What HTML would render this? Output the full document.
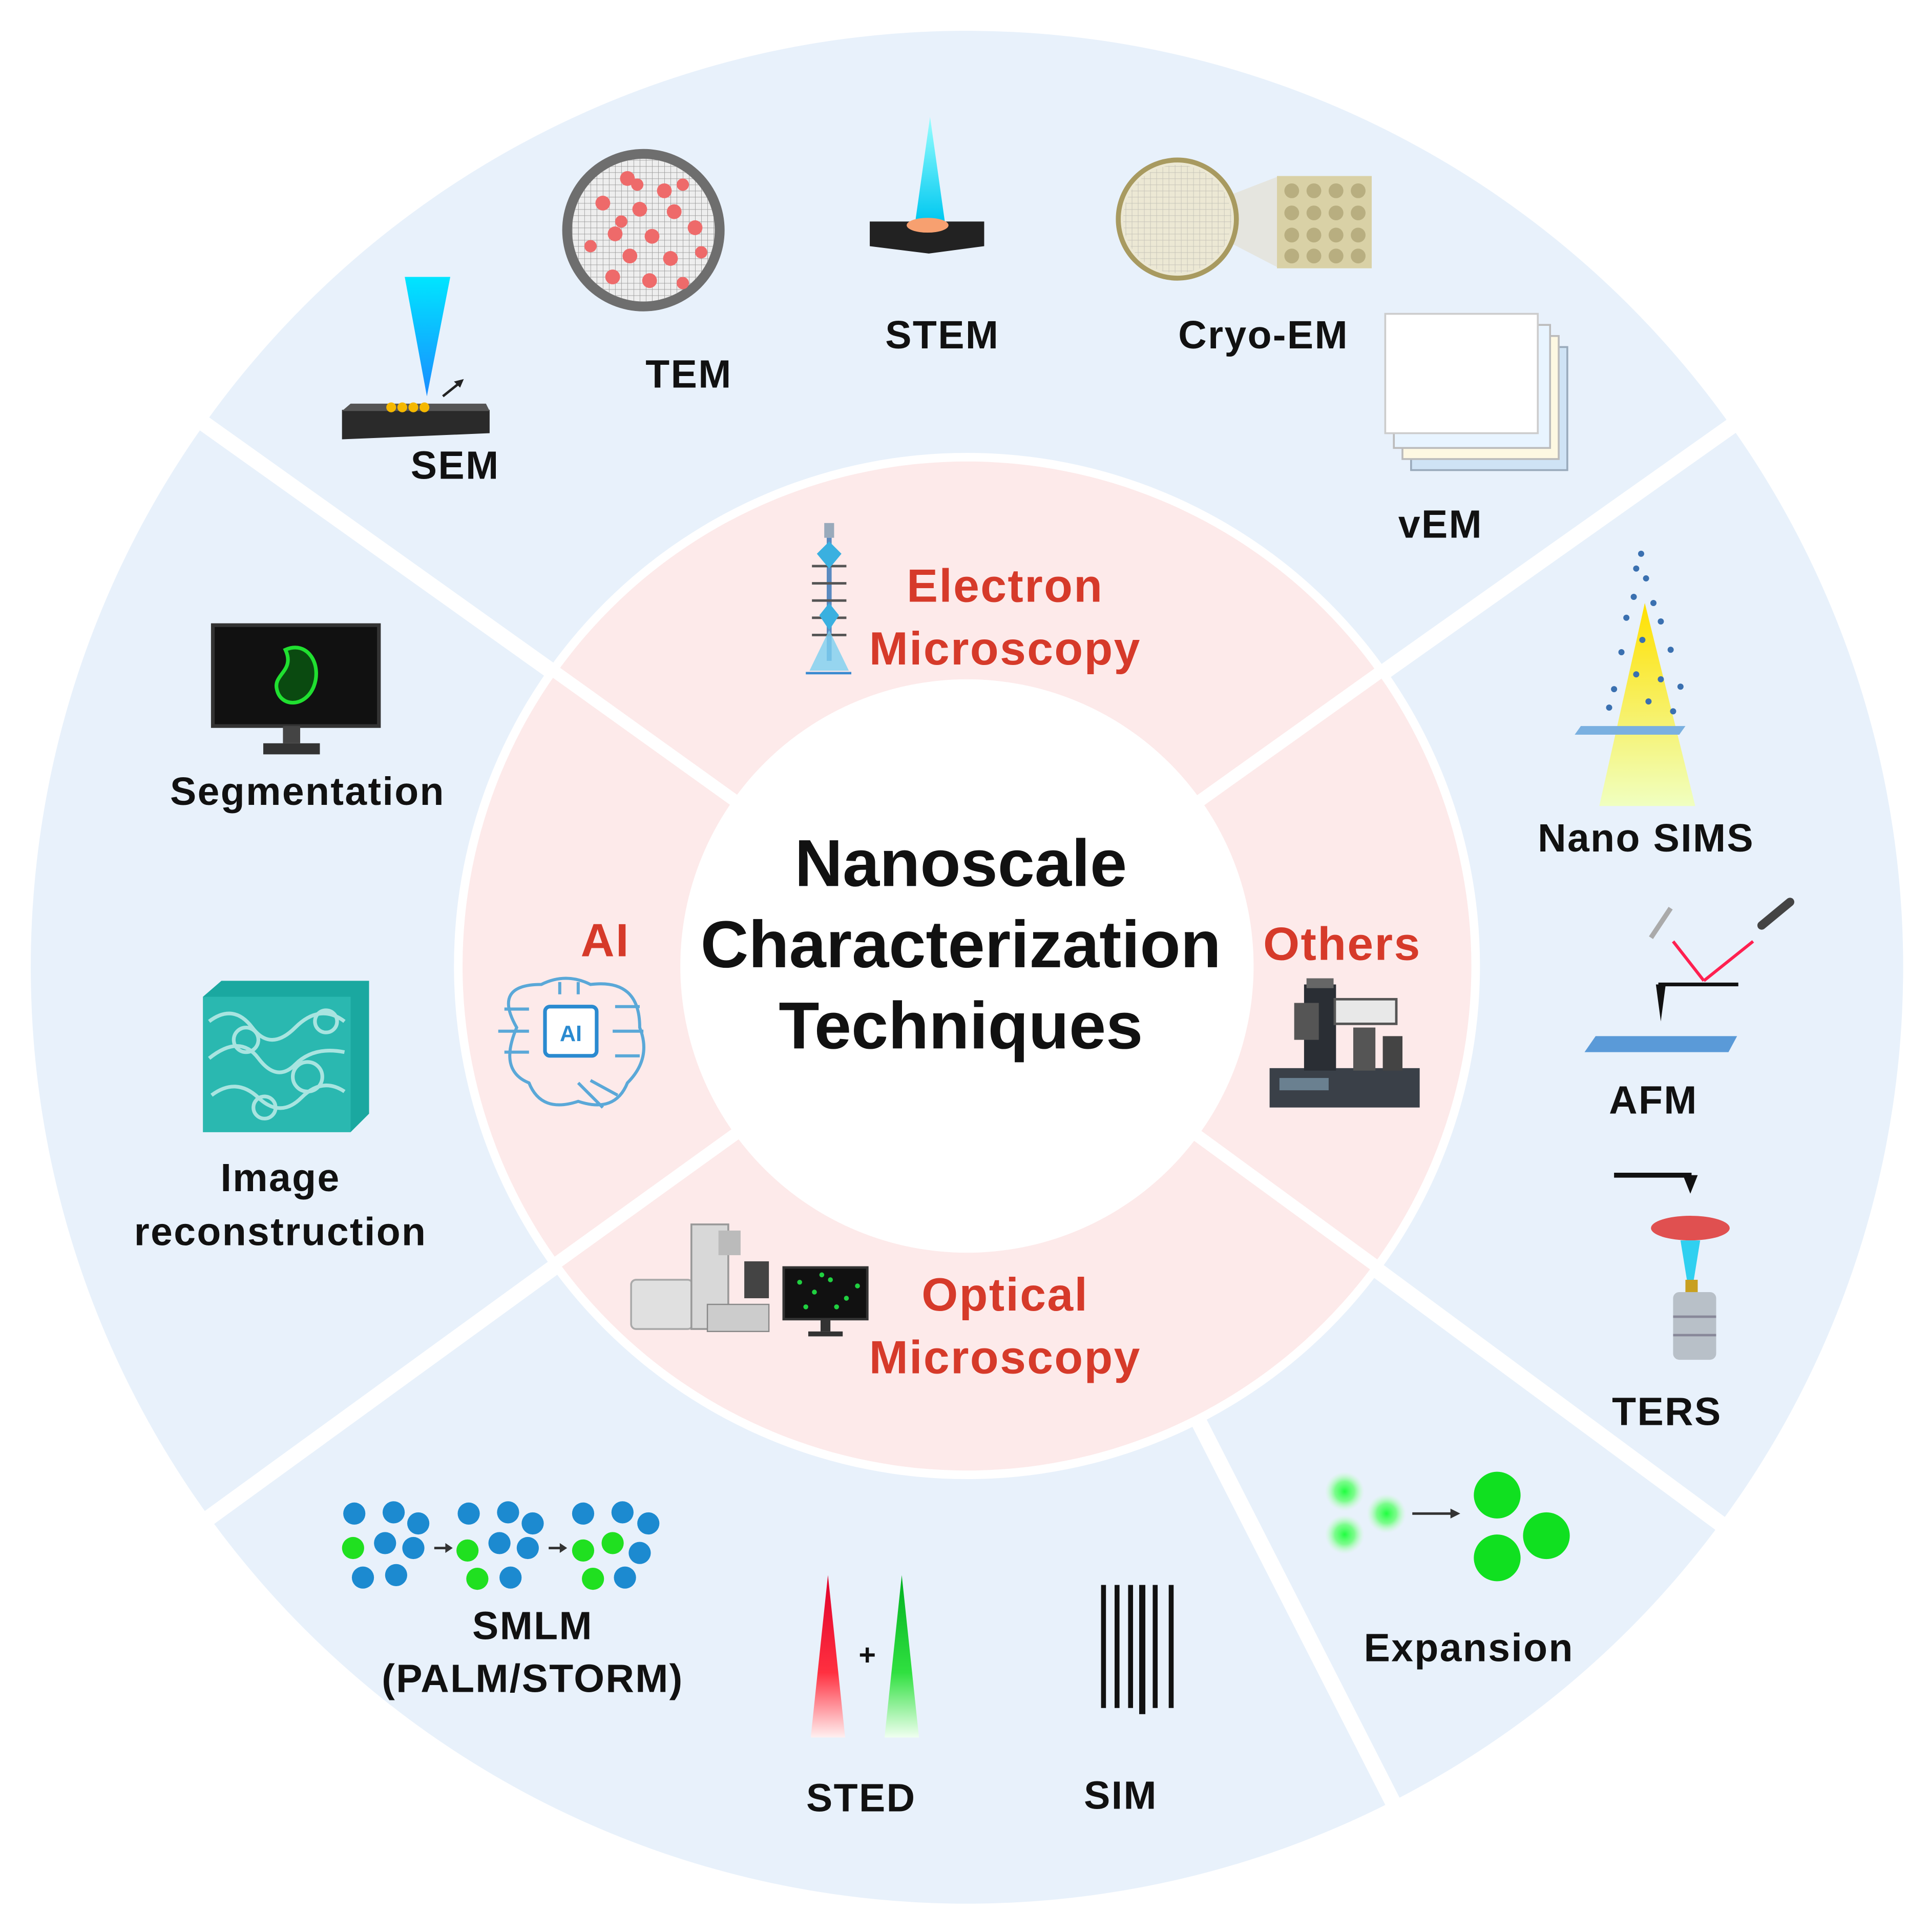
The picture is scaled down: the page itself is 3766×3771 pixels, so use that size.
<!DOCTYPE html>
<html><head><meta charset="utf-8"><style>
html,body{margin:0;padding:0;background:#fff}
svg{display:block}
text{font-family:"Liberation Sans",Arial,sans-serif;font-weight:bold}
</style></head><body>
<svg width="3766" height="3771" viewBox="0 0 1568 1570" xmlns="http://www.w3.org/2000/svg">
<defs>
<linearGradient id="cy" x1="0" y1="0" x2="0" y2="1"><stop offset="0" stop-color="#00e5ff"/><stop offset="1" stop-color="#1a8cff"/></linearGradient>
<linearGradient id="cy2" x1="0" y1="0" x2="0" y2="1"><stop offset="0" stop-color="#9ff"/><stop offset="1" stop-color="#00c8f0"/></linearGradient>
<linearGradient id="rd" x1="0" y1="0" x2="0" y2="1"><stop offset="0" stop-color="#e0002a"/><stop offset="0.6" stop-color="#ff3040"/><stop offset="1" stop-color="#fff0f0"/></linearGradient>
<linearGradient id="gr" x1="0" y1="0" x2="0" y2="1"><stop offset="0" stop-color="#00b020"/><stop offset="0.6" stop-color="#30e040"/><stop offset="1" stop-color="#f0fff0"/></linearGradient>
<linearGradient id="yl" x1="0" y1="0" x2="0" y2="1"><stop offset="0" stop-color="#ffe000"/><stop offset="1" stop-color="#f0ffc0"/></linearGradient>
<radialGradient id="gb"><stop offset="0" stop-color="#20ff40"/><stop offset="0.5" stop-color="#60ff70" stop-opacity="0.8"/><stop offset="1" stop-color="#c0ffc0" stop-opacity="0"/></radialGradient>
<pattern id="grid" width="5" height="5" patternUnits="userSpaceOnUse"><path d="M0 0H5M0 0V5" stroke="#999" stroke-width="0.7" fill="none"/></pattern>
</defs>
<circle cx="786" cy="786" r="761" fill="#e8f1fb"/>
<g stroke="#fff" stroke-width="13">
<line x1="786" y1="786" x2="160" y2="340"/>
<line x1="786" y1="786" x2="1412" y2="343"/>
<line x1="786" y1="786" x2="165" y2="1237"/>
<line x1="786" y1="786" x2="1405" y2="1243"/>
<line x1="786" y1="786" x2="1135" y2="1470"/>
</g>
<circle cx="786" cy="785" r="417" fill="#fff"/>
<circle cx="786" cy="785" r="410" fill="#fdeaea"/>
<g stroke="#fff" stroke-width="10">
<line x1="786" y1="786" x2="450" y2="545"/>
<line x1="786" y1="786" x2="1122" y2="546"/>
<line x1="786" y1="786" x2="450" y2="1028"/>
<line x1="786" y1="786" x2="1120" y2="1030"/>
</g>
<circle cx="786" cy="785" r="233" fill="#fff"/>

<text x="781" y="720" font-size="54" text-anchor="middle" fill="#111">Nanoscale</text>
<text x="781" y="786" font-size="54" text-anchor="middle" fill="#111">Characterization</text>
<text x="781" y="852" font-size="54" text-anchor="middle" fill="#111">Techniques</text>

<g fill="#d63a2a" font-size="38" text-anchor="middle" letter-spacing="1">
<text x="817" y="489">Electron</text>
<text x="817" y="540">Microscopy</text>
<text x="492" y="777">AI</text>
<text x="1091" y="780">Others</text>
<text x="817" y="1065">Optical</text>
<text x="817" y="1116">Microscopy</text>
</g>

<g fill="#111" font-size="32" text-anchor="middle" letter-spacing="1">
<text x="370" y="389">SEM</text>
<text x="560" y="315">TEM</text>
<text x="766" y="283">STEM</text>
<text x="1027" y="283">Cryo-EM</text>
<text x="1171" y="437">vEM</text>
<text x="250" y="654">Segmentation</text>
<text x="228" y="968">Image</text>
<text x="228" y="1012">reconstruction</text>
<text x="1338" y="692">Nano SIMS</text>
<text x="1344" y="905">AFM</text>
<text x="1355" y="1158">TERS</text>
<text x="1194" y="1350">Expansion</text>
<text x="433" y="1332">SMLM</text>
<text x="433" y="1375">(PALM/STORM)</text>
<text x="700" y="1472">STED</text>
<text x="911" y="1470">SIM</text>
</g>

<polygon points="329,225 366,225 347,322" fill="url(#cy)"/>
<polygon points="278,333 398,333 398,352 278,357" fill="#2a2a2a"/>
<polygon points="285,328 395,328 398,334 278,334" fill="#555"/>
<g fill="#f5b800"><circle cx="318" cy="331" r="4"/><circle cx="327" cy="331" r="4"/><circle cx="336" cy="331" r="4"/><circle cx="345" cy="331" r="4"/></g>
<line x1="360" y1="322" x2="375" y2="310" stroke="#222" stroke-width="2"/>
<polygon points="377,308 369,310 374,315" fill="#222"/>

<circle cx="523" cy="187" r="66" fill="#6e6e6e"/>
<circle cx="523" cy="187" r="58" fill="#eee"/>
<circle cx="523" cy="187" r="58" fill="url(#grid)"/>
<g fill="#ee6a6a">
<circle cx="510" cy="145" r="6"/><circle cx="540" cy="155" r="6"/><circle cx="555" cy="150" r="5"/><circle cx="490" cy="165" r="6"/><circle cx="520" cy="170" r="6"/><circle cx="548" cy="172" r="6"/><circle cx="500" cy="190" r="6"/><circle cx="530" cy="192" r="6"/><circle cx="565" cy="185" r="6"/><circle cx="480" cy="200" r="5"/><circle cx="512" cy="208" r="6"/><circle cx="545" cy="210" r="6"/><circle cx="498" cy="225" r="6"/><circle cx="528" cy="228" r="6"/><circle cx="555" cy="230" r="5"/><circle cx="518" cy="150" r="5"/><circle cx="505" cy="180" r="5"/><circle cx="570" cy="205" r="5"/>
</g>

<polygon points="756,95 768,180 744,180" fill="url(#cy2)"/>
<polygon points="707,180 800,180 800,200 755,206 707,200" fill="#222"/>
<ellipse cx="754" cy="183" rx="17" ry="6" fill="#f7a070"/>

<polygon points="957,175 1040,143 1040,218" fill="#e5e5df"/>
<circle cx="957" cy="178" r="48" fill="#ece8d4" stroke="#a89a60" stroke-width="4"/>
<circle cx="957" cy="178" r="44" fill="url(#grid)" opacity="0.5"/>
<rect x="1038" y="143" width="77" height="75" fill="#d9d1a6"/>
<g fill="#b8ae80">
<circle cx="1050" cy="155" r="6"/><circle cx="1068" cy="155" r="6"/><circle cx="1086" cy="155" r="6"/><circle cx="1104" cy="155" r="6"/>
<circle cx="1050" cy="173" r="6"/><circle cx="1068" cy="173" r="6"/><circle cx="1086" cy="173" r="6"/><circle cx="1104" cy="173" r="6"/>
<circle cx="1050" cy="191" r="6"/><circle cx="1068" cy="191" r="6"/><circle cx="1086" cy="191" r="6"/><circle cx="1104" cy="191" r="6"/>
<circle cx="1050" cy="208" r="6"/><circle cx="1068" cy="208" r="6"/><circle cx="1086" cy="208" r="6"/><circle cx="1104" cy="208" r="6"/>
</g>

<rect x="1147" y="282" width="127" height="100" fill="#cfe3f5" stroke="#9ab" stroke-width="1.5"/>
<rect x="1140" y="273" width="127" height="100" fill="#fdf8e2" stroke="#bbb" stroke-width="1.5"/>
<rect x="1133" y="264" width="127" height="100" fill="#e8f4ff" stroke="#bbb" stroke-width="1.5"/>
<rect x="1126" y="255" width="124" height="97" fill="#fff" stroke="#ccc" stroke-width="1.5"/>

<rect x="670" y="425" width="8" height="12" fill="#9ab"/>
<rect x="672" y="437" width="4" height="100" fill="#5a8ac0"/>
<g stroke="#555" stroke-width="2">
<line x1="660" y1="460" x2="688" y2="460"/><line x1="660" y1="474" x2="688" y2="474"/><line x1="660" y1="488" x2="688" y2="488"/><line x1="660" y1="502" x2="688" y2="502"/><line x1="660" y1="516" x2="688" y2="516"/>
</g>
<polygon points="674,440 684,450 674,462 664,450" fill="#3ab0e0"/>
<polygon points="674,490 682,500 674,512 666,500" fill="#3ab0e0"/>
<polygon points="674,512 690,545 658,545" fill="#7cd0f0" opacity="0.8"/>
<line x1="655" y1="547" x2="692" y2="547" stroke="#3a8ad0" stroke-width="2"/>

<rect x="173" y="508" width="135" height="82" fill="#111" stroke="#333" stroke-width="3"/>
<rect x="230" y="590" width="14" height="14" fill="#444"/>
<rect x="214" y="604" width="46" height="9" fill="#333"/>
<path d="M232,528 C250,520 262,540 255,558 C248,575 228,575 225,560 C222,548 240,545 232,528Z" fill="#0a4a10" stroke="#20e030" stroke-width="3"/>

<polygon points="165,810 180,797 300,797 300,905 285,920 165,920" fill="#1aa8a0"/>
<rect x="165" y="810" width="120" height="110" fill="#2ab8b0"/>
<g stroke="#c8f0ec" stroke-width="3" fill="none" opacity="0.8">
<path d="M170,830 q20,-15 35,5 t35,0 t40,-5"/><path d="M170,860 q25,-20 40,0 t30,5 t40,-10"/><path d="M172,890 q20,-15 38,2 t35,0 t35,-5"/>
<circle cx="200" cy="845" r="10"/><circle cx="250" cy="875" r="12"/><circle cx="215" cy="900" r="9"/><circle cx="265" cy="830" r="9"/>
</g>

<polygon points="1337,490 1378,655 1300,655" fill="url(#yl)"/>
<polygon points="1285,590 1370,590 1365,597 1280,597" fill="#7ab0e0"/>
<g fill="#3a70b0">
<circle cx="1334" cy="450" r="2.5"/><circle cx="1330" cy="462" r="2.5"/><circle cx="1338" cy="470" r="2.5"/><circle cx="1328" cy="485" r="2.5"/><circle cx="1344" cy="490" r="2.5"/><circle cx="1322" cy="502" r="2.5"/><circle cx="1350" cy="505" r="2.5"/><circle cx="1335" cy="520" r="2.5"/><circle cx="1318" cy="530" r="2.5"/><circle cx="1358" cy="528" r="2.5"/><circle cx="1330" cy="548" r="2.5"/><circle cx="1350" cy="552" r="2.5"/><circle cx="1312" cy="560" r="2.5"/><circle cx="1366" cy="558" r="2.5"/><circle cx="1340" cy="570" r="2.5"/><circle cx="1308" cy="575" r="2.5"/><circle cx="1360" cy="578" r="2.5"/>
</g>

<polygon points="1297,842 1412,842 1405,855 1288,855" fill="#5a9ad8"/>
<line x1="1348" y1="800" x2="1413" y2="800" stroke="#111" stroke-width="3"/>
<polygon points="1346,800 1354,800 1350,830" fill="#111"/>
<line x1="1360" y1="765" x2="1385" y2="797" stroke="#ff2050" stroke-width="2.5"/>
<line x1="1385" y1="797" x2="1425" y2="765" stroke="#ff2050" stroke-width="2.5"/>
<line x1="1432" y1="752" x2="1455" y2="733" stroke="#444" stroke-width="7" stroke-linecap="round"/>
<line x1="1342" y1="762" x2="1358" y2="738" stroke="#aaa" stroke-width="4"/>

<line x1="1312" y1="955" x2="1375" y2="955" stroke="#111" stroke-width="4"/>
<polygon points="1368,955 1380,955 1374,970" fill="#111"/>
<ellipse cx="1374" cy="998" rx="32" ry="10" fill="#e05050"/>
<polygon points="1366,1008 1382,1008 1376,1045 1372,1045" fill="#30d0f0"/>
<rect x="1370" y="1040" width="10" height="10" fill="#c8a020"/>
<rect x="1360" y="1050" width="35" height="55" rx="5" fill="#b8c0c8"/>
<line x1="1360" y1="1070" x2="1395" y2="1070" stroke="#889" stroke-width="2"/><line x1="1360" y1="1085" x2="1395" y2="1085" stroke="#889" stroke-width="2"/>

<circle cx="1093" cy="1212" r="16" fill="url(#gb)"/>
<circle cx="1127" cy="1230" r="16" fill="url(#gb)"/>
<circle cx="1093" cy="1247" r="16" fill="url(#gb)"/>
<line x1="1148" y1="1230" x2="1180" y2="1230" stroke="#333" stroke-width="2"/>
<polygon points="1187,1230 1179,1226 1179,1234" fill="#333"/>
<g fill="#10e020"><circle cx="1217" cy="1215" r="19"/><circle cx="1257" cy="1248" r="19"/><circle cx="1217" cy="1266" r="19"/></g>

<g fill="#1c8ad0">
<circle cx="288" cy="1230" r="9"/><circle cx="320" cy="1229" r="9"/><circle cx="340" cy="1238" r="9"/><circle cx="313" cy="1254" r="9"/><circle cx="336" cy="1258" r="9"/><circle cx="295" cy="1282" r="9"/><circle cx="322" cy="1280" r="9"/>
<circle cx="381" cy="1230" r="9"/><circle cx="413" cy="1229" r="9"/><circle cx="433" cy="1238" r="9"/><circle cx="406" cy="1254" r="9"/><circle cx="429" cy="1258" r="9"/><circle cx="415" cy="1282" r="9"/>
<circle cx="474" cy="1230" r="9"/><circle cx="506" cy="1229" r="9"/><circle cx="527" cy="1238" r="9"/><circle cx="520" cy="1262" r="9"/><circle cx="508" cy="1282" r="9"/>
</g>
<g fill="#20e020"><circle cx="287" cy="1258" r="9"/><circle cx="380" cy="1260" r="9"/><circle cx="388" cy="1283" r="9"/><circle cx="474" cy="1260" r="9"/><circle cx="498" cy="1254" r="9"/><circle cx="482" cy="1283" r="9"/></g>
<g stroke="#333" stroke-width="2"><line x1="353" y1="1258" x2="364" y2="1258"/><line x1="446" y1="1258" x2="457" y2="1258"/></g>
<polygon points="368,1258 362,1254 362,1262" fill="#333"/><polygon points="461,1258 455,1254 455,1262" fill="#333"/>

<polygon points="673,1280 687,1412 659,1412" fill="url(#rd)"/>
<polygon points="733,1280 747,1412 719,1412" fill="url(#gr)"/>
<text x="705" y="1353" font-size="24" text-anchor="middle" fill="#111">+</text>

<g fill="#111">
<rect x="895" y="1288" width="4" height="100"/><rect x="906" y="1288" width="4" height="100"/><rect x="917" y="1288" width="4" height="100"/><rect x="926" y="1288" width="5" height="105"/><rect x="937" y="1288" width="4" height="100"/><rect x="950" y="1288" width="4" height="100"/>
</g>

<g stroke="#5aa8d8" stroke-width="2.5" fill="none">
<path d="M420,835 q-20,-35 20,-35 q20,-10 40,0 q40,-5 40,35 q10,25 -10,45 q-10,25 -40,15 q-30,10 -40,-15 q-25,-10 -10,-45z"/>
<path d="M410,820 h20 M405,838 h25 M410,855 h20 M500,818 h20 M498,838 h25 M500,858 h20 M470,880 l20,20 M480,878 l22,12 M455,808 v-10 M470,808 v-10"/>
</g>
<rect x="443" y="818" width="42" height="40" rx="4" fill="#fff" stroke="#2a8ad0" stroke-width="3"/>
<text x="464" y="846" font-size="18" text-anchor="middle" fill="#2a8ad0">AI</text>

<rect x="1032" y="868" width="122" height="32" fill="#3a4048"/>
<rect x="1040" y="876" width="40" height="10" fill="#6a8090"/>
<rect x="1060" y="800" width="26" height="70" fill="#2a2e34"/>
<rect x="1052" y="815" width="20" height="30" fill="#555"/>
<rect x="1085" y="812" width="50" height="20" fill="#e8e8e8" stroke="#555" stroke-width="2"/>
<rect x="1100" y="835" width="18" height="35" fill="#555"/>
<rect x="1124" y="842" width="16" height="28" fill="#444"/>
<rect x="1062" y="795" width="22" height="8" fill="#666"/>

<rect x="513" y="1040" width="50" height="40" rx="4" fill="#e0e0e0" stroke="#aaa" stroke-width="1.5"/>
<rect x="562" y="995" width="30" height="85" fill="#d8d8d8" stroke="#999" stroke-width="1.5"/>
<rect x="584" y="1000" width="18" height="20" fill="#bbb"/>
<rect x="575" y="1060" width="50" height="22" fill="#ccc" stroke="#888" stroke-width="1"/>
<rect x="605" y="1025" width="20" height="30" fill="#444"/>
<rect x="637" y="1030" width="68" height="42" fill="#111" stroke="#333" stroke-width="2"/>
<g fill="#20d040"><circle cx="650" cy="1042" r="2"/><circle cx="662" cy="1050" r="2"/><circle cx="675" cy="1040" r="2"/><circle cx="688" cy="1055" r="2"/><circle cx="697" cy="1045" r="2"/><circle cx="655" cy="1062" r="2"/><circle cx="680" cy="1062" r="2"/><circle cx="668" cy="1036" r="2"/></g>
<rect x="667" y="1072" width="8" height="10" fill="#333"/>
<rect x="657" y="1082" width="28" height="4" fill="#333"/>
</svg>
</body></html>
